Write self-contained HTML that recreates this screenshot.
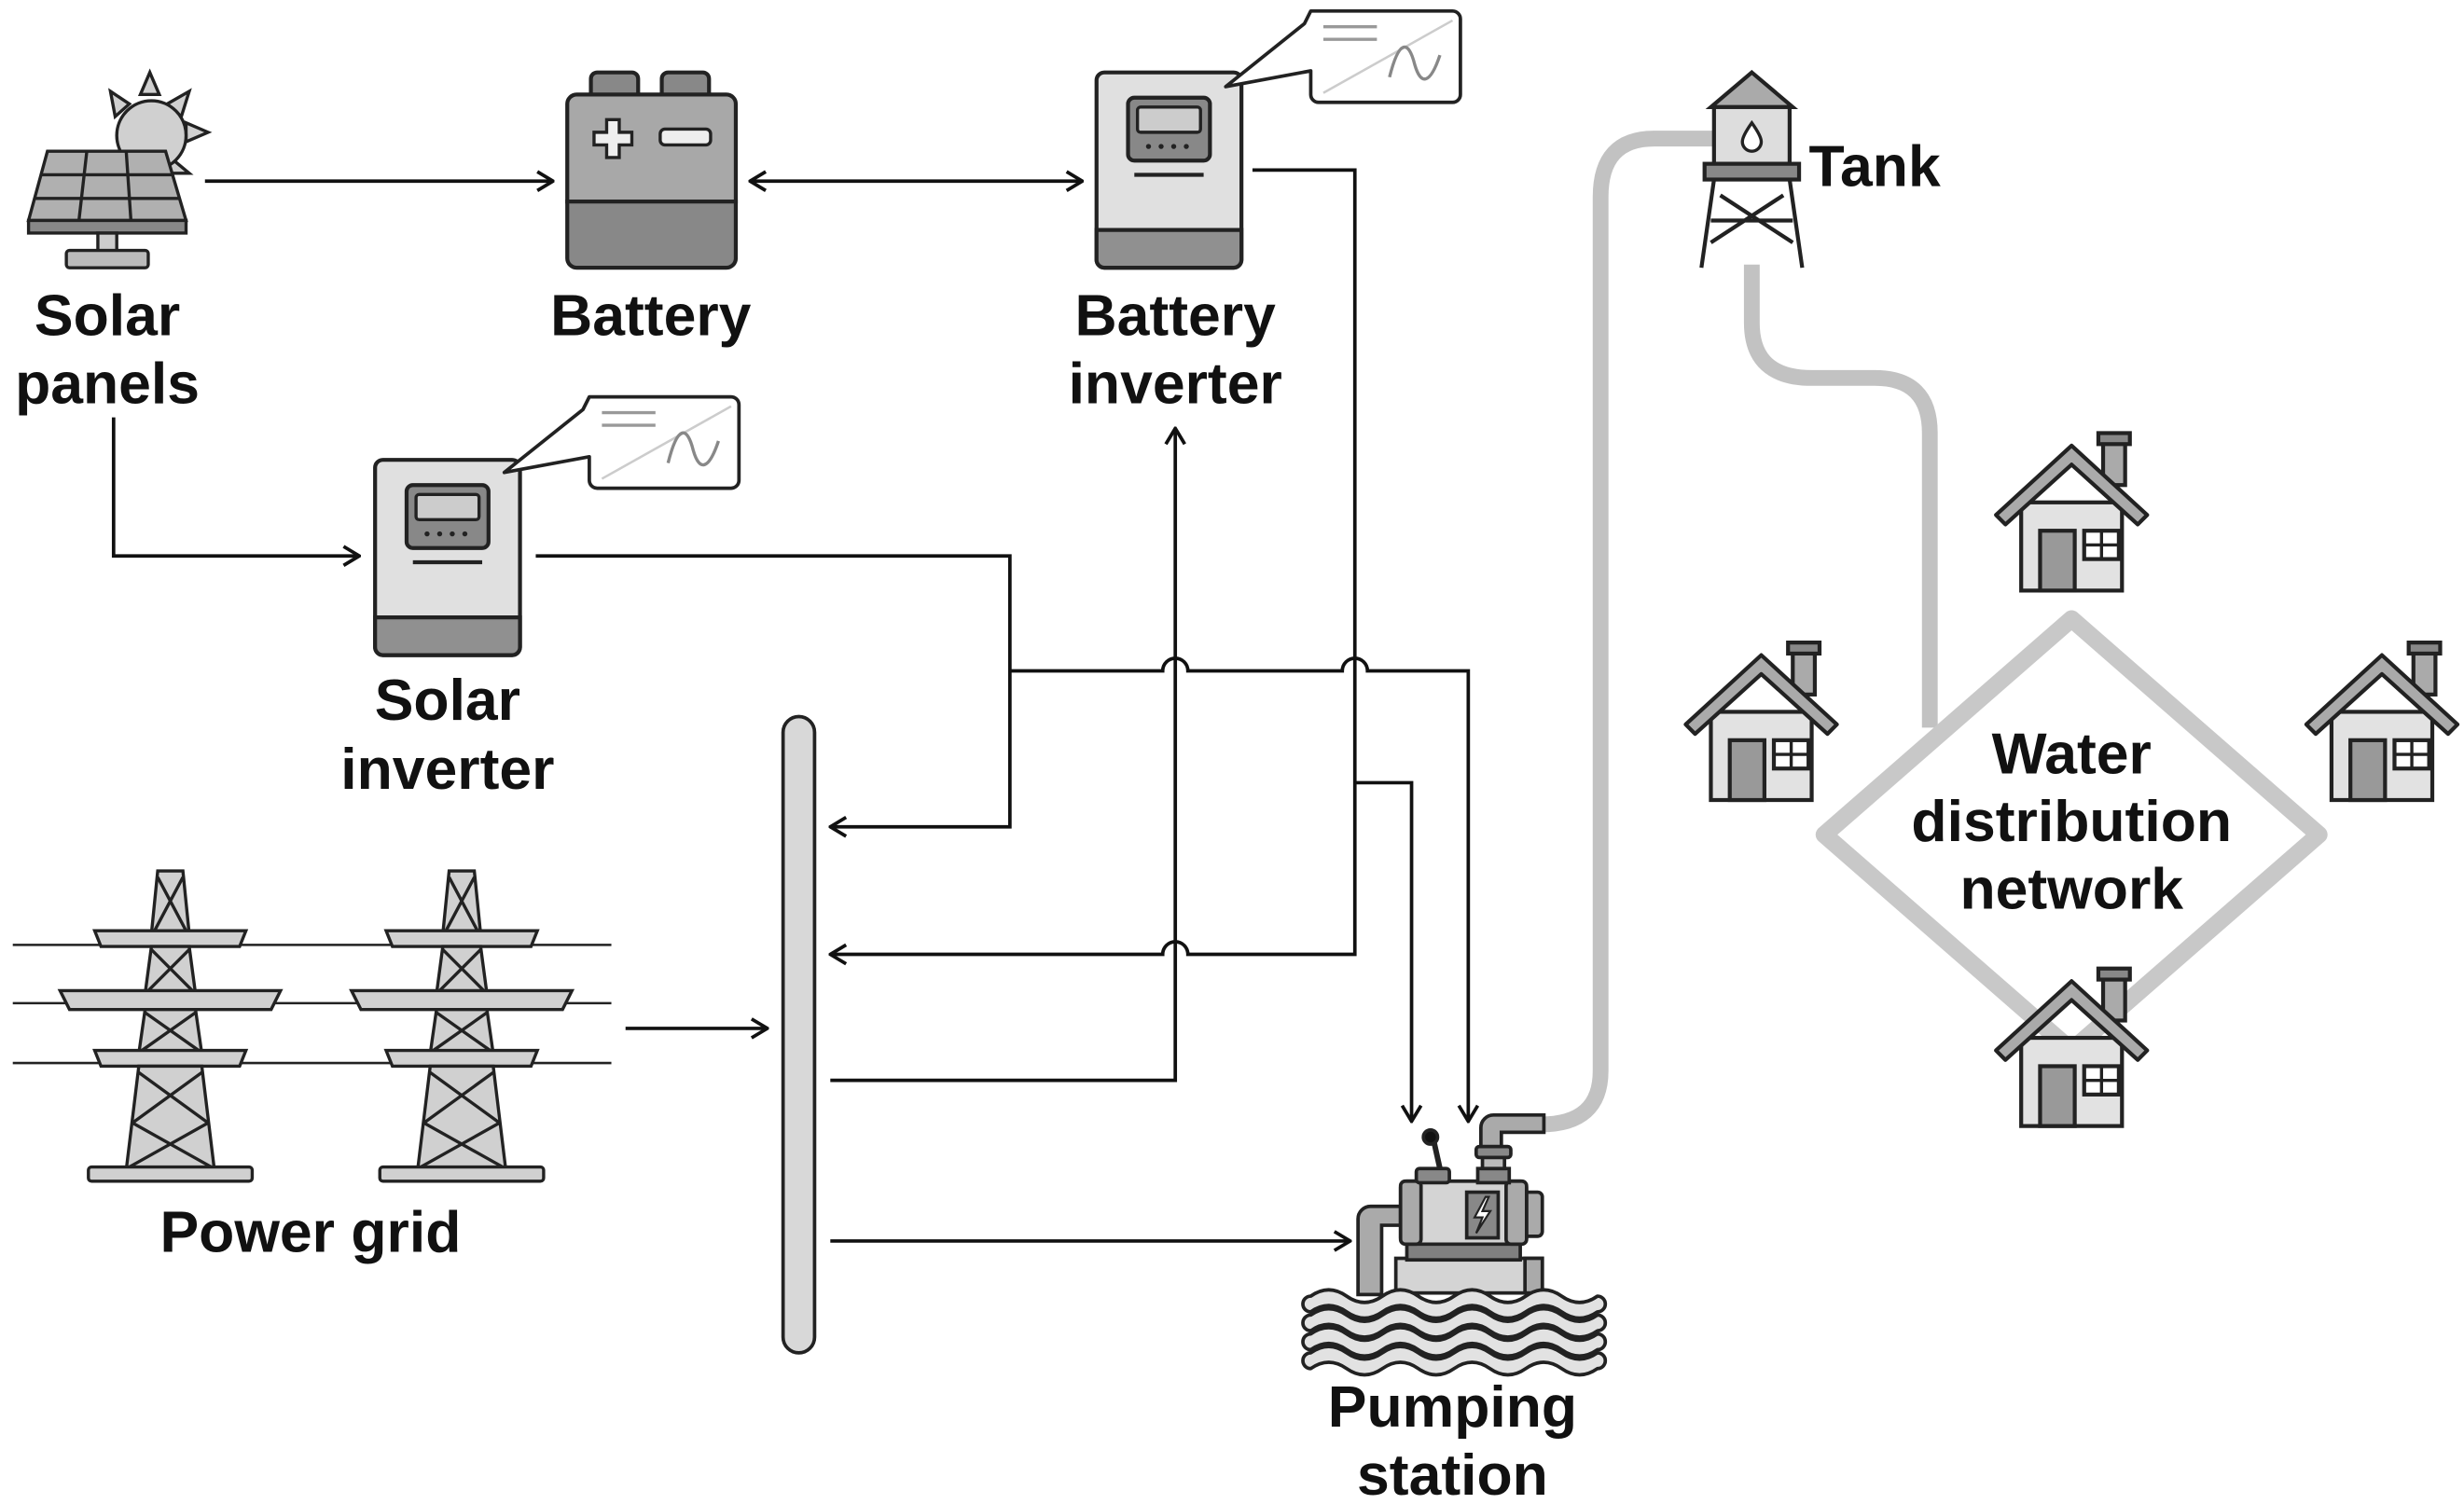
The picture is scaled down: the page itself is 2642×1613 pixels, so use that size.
<!DOCTYPE html>
<html><head><meta charset="utf-8"><style>
html,body{margin:0;padding:0;background:#fff}
svg{display:block}
text{font-family:"Liberation Sans",sans-serif;font-weight:bold;fill:#111;text-anchor:middle}
</style></head><body>
<svg width="2642" height="1613" viewBox="0 0 1564 955" xmlns="http://www.w3.org/2000/svg">
<defs>
<marker id="ah" viewBox="0 0 12 14" refX="11" refY="7" markerWidth="12" markerHeight="14" markerUnits="userSpaceOnUse" orient="auto-start-reverse">
<path d="M1,1 L11,7 L1,13" fill="none" stroke="#111" stroke-width="2.2"/>
</marker>
<g id="house">
<rect x="-32" y="-6" width="64" height="56" fill="#e2e2e2" stroke="#222" stroke-width="2.5"/>
<rect x="20" y="-45" width="14" height="28" fill="#aaa" stroke="#222" stroke-width="2.5"/>
<rect x="17" y="-50" width="20" height="7" fill="#888" stroke="#222" stroke-width="2.5"/>
<path d="M-48,2 L0,-42 L48,2 L42,8 L0,-30 L-42,8 Z" fill="#aaa" stroke="#222" stroke-width="2.5" stroke-linejoin="round"/>
<rect x="-20" y="12" width="22" height="38" fill="#999" stroke="#222" stroke-width="2.5"/>
<rect x="8" y="12" width="22" height="18" fill="#fff" stroke="#222" stroke-width="2.5"/>
<path d="M19,12 V30 M8,21 H30" stroke="#222" stroke-width="2"/>
</g>
<g id="tower" fill="#d0d0d0" stroke="#222" stroke-width="2">
<path d="M-8,0 L8,0 L12,40 L-12,40 Z"/>
<path d="M-48,38 L48,38 L44,48 L-44,48 Z"/>
<path d="M-12,48 L12,48 L16,78 L-16,78 Z"/>
<path d="M-70,76 L70,76 L64,88 L-64,88 Z"/>
<path d="M-16,88 L16,88 L20,116 L-20,116 Z"/>
<path d="M-48,114 L48,114 L44,124 L-44,124 Z"/>
<path d="M-20,124 L20,124 L28,190 L-28,190 Z"/>
<path d="M-8,4 L10,38 M8,4 L-10,38 M-12,50 L14,76 M12,50 L-14,76 M-16,90 L18,114 M16,90 L-18,114 M-20,128 L24,160 M20,128 L-24,160 M-24,160 L26,188 M24,160 L-26,188" fill="none"/>
<rect x="-52" y="188" width="104" height="9" rx="2"/>
</g>
<g id="inv">
<rect x="0" y="0" width="92" height="124" rx="5" fill="#e0e0e0" stroke="#222" stroke-width="2.5"/>
<path d="M0,100 H92 V119 a5,5 0 0 1 -5,5 H5 a5,5 0 0 1 -5,-5 Z" fill="#909090" stroke="#222" stroke-width="2.5"/>
<rect x="20" y="16" width="52" height="40" rx="4" fill="#888" stroke="#222" stroke-width="2.5"/>
<rect x="26" y="22" width="40" height="16" rx="2" fill="#ccc" stroke="#222" stroke-width="2"/>
<g fill="#222"><circle cx="33" cy="47" r="1.6"/><circle cx="41" cy="47" r="1.6"/><circle cx="49" cy="47" r="1.6"/><circle cx="57" cy="47" r="1.6"/></g>
<path d="M24,65 H68" stroke="#222" stroke-width="2.5"/>
</g>
<g id="bubble">
<path d="M22,0 H112 a5,5 0 0 1 5,5 V53 a5,5 0 0 1 -5,5 H27 a5,5 0 0 1 -5,-5 V38 L-32,48 L18,8 Z" fill="#fff" stroke="#222" stroke-width="2.2" stroke-linejoin="round"/>
<path d="M30,10 H64 M30,18 H64" stroke="#999" stroke-width="2"/>
<path d="M30,52 L112,6" stroke="#ccc" stroke-width="1.5"/>
<path d="M72,42 C78,18 84,18 88,34 C92,48 98,46 104,28" fill="none" stroke="#888" stroke-width="2"/>
</g>
<path id="wave" d="M832,0 q11.4,-8 22.75,0 t22.75,0 t22.75,0 t22.75,0 t22.75,0 t22.75,0 t22.75,0 t22.75,0 a5,5 0 0 1 0,10 q-11.4,8 -22.75,0 t-22.75,0 t-22.75,0 t-22.75,0 t-22.75,0 t-22.75,0 t-22.75,0 t-22.75,0 a5,5 0 0 1 0,-10 Z" fill="#e2e2e2" stroke="#222" stroke-width="2.2" stroke-linejoin="round"/>
</defs>

<!-- Solar panels -->
<g stroke="#222" stroke-width="2">
<g fill="#d0d0d0">
<path d="M95,46 l-6,14 l12,0 Z M120,58 l-14,8 l9,8 Z M132,84 l-14,-6 l0,12 Z M120,110 l-12,-10 l-4,10 Z M70,58 l12,8 l-9,8 Z"/>
</g>
<circle cx="96" cy="86" r="22" fill="#d0d0d0"/>
<path d="M30,96 H105 L118,140 H18 Z" fill="#b0b0b0"/>
<path d="M18,140 H118 V148 H18 Z" fill="#888"/>
<path d="M55,96 L50,140 M80,96 L83,140 M26,111 H110 M22,126 H114" fill="none"/>
<rect x="62" y="148" width="12" height="12" fill="#ccc"/>
<rect x="42" y="159" width="52" height="11" rx="2" fill="#bbb"/>
</g>
<text x="68" y="213" font-size="37">Solar</text>
<text x="68" y="256" font-size="37">panels</text>

<!-- Battery -->
<g stroke="#222" stroke-width="2.5">
<rect x="375" y="46" width="30" height="18" rx="4" fill="#888"/>
<rect x="420" y="46" width="30" height="18" rx="4" fill="#888"/>
<path d="M360,128 V66 a6,6 0 0 1 6,-6 H461 a6,6 0 0 1 6,6 V128 Z" fill="#a8a8a8"/>
<path d="M360,128 H467 V164 a6,6 0 0 1 -6,6 H366 a6,6 0 0 1 -6,-6 Z" fill="#888"/>
<path d="M385,76 h8 v8 h8 v8 h-8 v8 h-8 v-8 h-8 v-8 h8 Z" fill="#eee" stroke-width="2"/>
<rect x="419" y="82" width="32" height="10" rx="3" fill="#eee" stroke-width="2"/>
</g>
<text x="413" y="213" font-size="37">Battery</text>

<!-- Battery inverter -->
<use href="#inv" x="696" y="46"/>
<use href="#bubble" x="810" y="7"/>
<text x="746" y="213" font-size="37">Battery</text>
<text x="746" y="256" font-size="37">inverter</text>

<!-- Solar inverter -->
<use href="#inv" x="238" y="292"/>
<use href="#bubble" x="352" y="252"/>
<text x="284" y="457" font-size="37">Solar</text>
<text x="284" y="501" font-size="37">inverter</text>

<!-- Bus bar -->
<rect x="497" y="455" width="20" height="404" rx="10" fill="#d8d8d8" stroke="#222" stroke-width="2.2"/>

<!-- connectors -->
<g fill="none" stroke="#111" stroke-width="2.2">
<path d="M130,115 H351" marker-end="url(#ah)"/>
<path d="M476,115 H687" marker-start="url(#ah)" marker-end="url(#ah)"/>
<path d="M72,265 V353 H228" marker-end="url(#ah)"/>
<path d="M340,353 H641 V525 H527" marker-end="url(#ah)"/>
<path d="M641,426 H738 a8,8 0 0 1 16,0 H852 a8,8 0 0 1 16,0 H932 V712" marker-end="url(#ah)"/>
<path d="M795,108 H860 V606 H754 a8,8 0 0 0 -16,0 H527" marker-end="url(#ah)"/>
<path d="M860,497 H896 V712" marker-end="url(#ah)"/>
<path d="M527,686 H746 V272" marker-end="url(#ah)"/>
<path d="M397,653 H487" marker-end="url(#ah)"/>
<path d="M527,788 H857" marker-end="url(#ah)"/>
</g>

<!-- Power grid -->
<g stroke="#222" stroke-width="1.5"><path d="M8,600 H388 M8,637 H388 M8,675 H388"/></g>
<use href="#tower" x="108" y="553"/>
<use href="#tower" x="293" y="553"/>
<text x="197" y="795" font-size="37">Power grid</text>

<!-- pipes -->
<g fill="none" stroke="#c2c2c2" stroke-width="10">
<path d="M978,714 Q1016,714 1016,680 V125 Q1016,88 1050,88 H1088"/>
<path d="M1112,168 V205 Q1112,240 1150,240 H1190 Q1225,240 1225,275 V462"/>
<path d="M1315,393 L1472,530 L1315,667 L1158,530 Z" stroke="#c8c8c8" stroke-width="11" stroke-linejoin="round"/>
</g>

<!-- Tank -->
<g stroke="#222" stroke-width="2.5" fill="#d8d8d8">
<path d="M1112,46 L1138,68 H1086 Z" fill="#aaa"/>
<rect x="1088" y="68" width="48" height="36" fill="#ddd"/>
<path d="M1112,78 c-5,7 -6,10 -6,12 a6,6 0 0 0 12,0 c0,-2 -1,-5 -6,-12 Z" fill="#fff" stroke-width="2"/>
<rect x="1082" y="104" width="60" height="10" fill="#888"/>
<path d="M1088,114 L1080,170 M1136,114 L1144,170 M1092,124 L1138,154 M1132,124 L1086,154 M1086,140 H1138" fill="none"/>
</g>
<text x="1190" y="118" font-size="37">Tank</text>

<!-- houses -->
<use href="#house" x="1315" y="325"/>
<use href="#house" x="1118" y="458"/>
<use href="#house" x="1512" y="458"/>
<use href="#house" x="1315" y="665"/>
<text x="1315" y="491" font-size="37">Water</text>
<text x="1315" y="534" font-size="37">distribution</text>
<text x="1315" y="577" font-size="37">network</text>

<!-- Pump -->
<g stroke="#222" stroke-width="2.2">
<rect x="886" y="799" width="93" height="22" fill="#d4d4d4"/>
<rect x="968" y="799" width="11" height="22" fill="#aaa"/>
<path d="M862,822 V774 a8,8 0 0 1 8,-8 H889 V778 H877 V822 Z" fill="#aaa"/>
<rect x="893" y="789" width="72" height="11" fill="#808080"/>
<rect x="964" y="757" width="15" height="28" rx="3" fill="#aaa"/>
<rect x="889" y="750" width="80" height="40" rx="4" fill="#d4d4d4"/>
<rect x="889" y="750" width="13" height="40" rx="3" fill="#aaa"/>
<rect x="956" y="750" width="13" height="40" rx="3" fill="#aaa"/>
<rect x="931" y="757" width="20" height="29" fill="#888"/>
<path d="M943,760 l-7,13 h5 l-4,10 l9,-14 h-5 l4,-9 Z" fill="#fff" stroke-width="1.3"/>
<rect x="899" y="742" width="21" height="9" rx="2" fill="#888"/>
<path d="M914,742 L910,724" stroke-width="3.5"/>
<circle cx="908" cy="722" r="4.5" fill="#111"/>
<rect x="938" y="742" width="20" height="9" fill="#888"/>
<rect x="941" y="733" width="14" height="9" fill="#bbb"/>
<rect x="937" y="728" width="22" height="7" rx="2" fill="#888"/>
<path d="M940,728 V716 a8,8 0 0 1 8,-8 H980 V719 H953 V728 Z" fill="#aaa"/>
</g>
<use href="#wave" y="823"/>
<use href="#wave" y="835"/>
<use href="#wave" y="847"/>
<use href="#wave" y="859"/>
<text x="922" y="906" font-size="37">Pumping</text>
<text x="922" y="949" font-size="37">station</text>
</svg>
</body></html>
